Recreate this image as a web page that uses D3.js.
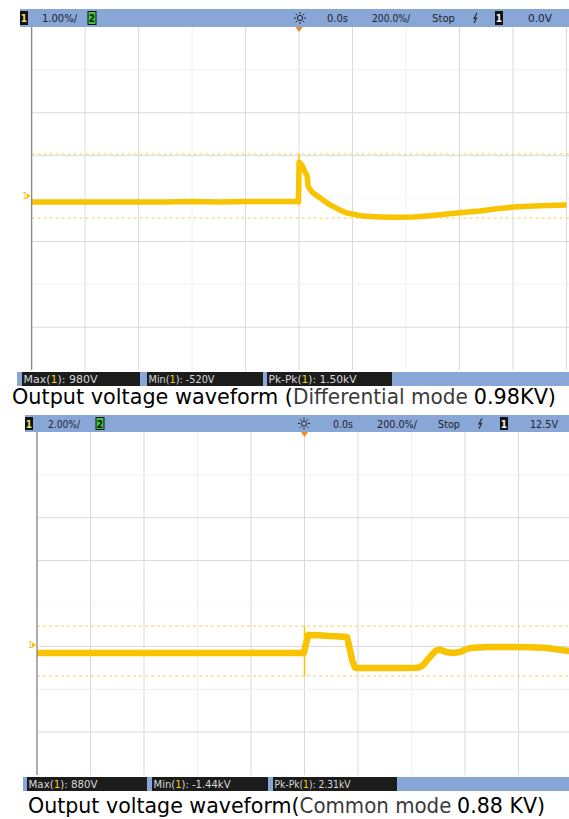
<!DOCTYPE html>
<html><head><meta charset="utf-8">
<script src="https://cdn.jsdelivr.net/npm/d3@7"></script>
<style>html,body{margin:0;padding:0;background:#fff;}svg{display:block;}</style>
</head><body>
<svg id="c" width="569" height="819"></svg>
<script>
// ---------- DATA ----------
// time grid (µs, 200 µs/div)
const timeGrid = [-1000,-800,-600,-400,-200,0,200,400,600,800,1000];
const divGrid = [0,1,2,3,4,5,6,7,8];

// Panel 1: differential mode (kV), 1 kV/div
const diffT = [-1000,-900,-800,-700,-600,-500,-400,-300,-200,-100,-2,0,4,12,22,30,34,50,79,116,150,179,239,303,360,426,490,553,620,677,740,800,900,1000];
const diffV = [-0.14,-0.14,-0.14,-0.14,-0.14,-0.14,-0.13,-0.14,-0.13,-0.13,-0.13,0.78,0.77,0.70,0.56,0.47,0.22,0.08,-0.05,-0.21,-0.32,-0.40,-0.47,-0.49,-0.50,-0.49,-0.46,-0.42,-0.38,-0.35,-0.30,-0.26,-0.23,-0.21];
const diffSpike = [0.98,-0.22];
const diffCursors = [0.98,-0.52];
const diffHeader = ["1.00%/","0.0s","200.0%/","Stop","0.0V"];
const diffStats = [["Max","980V"],["Min","-520V"],["Pk-Pk","1.50kV"]];

// Panel 2: common mode (kV), 2 kV/div
const commT = [-1000,-900,-800,-700,-600,-500,-400,-300,-200,-100,-2,13,50,95,130,159,166,178,189,230,282,357,420,432,445,458,477,488,495,505,518,535,555,581,600,619,682,779,850,906,990];
const commV = [-0.37,-0.37,-0.37,-0.37,-0.37,-0.37,-0.37,-0.37,-0.37,-0.37,-0.37,0.47,0.46,0.42,0.40,0.37,0.0,-0.70,-1.07,-1.07,-1.07,-1.07,-1.06,-1.03,-0.92,-0.72,-0.45,-0.30,-0.24,-0.22,-0.27,-0.34,-0.37,-0.33,-0.22,-0.14,-0.09,-0.09,-0.11,-0.14,-0.28];
const commSpike = [0.88,-1.44];
const commCursors = [0.88,-1.44];
const commHeader = ["2.00%/","0.0s","200.0%/","Stop","12.5V"];
const commStats = [["Max","880V"],["Min","-1.44kV"],["Pk-Pk","2.31kV"]];

const captions = [
  [["Output voltage waveform (","#000"],["Differential mode ","#3a3a3a"],["0.98KV)","#000"]],
  [["Output voltage waveform(","#000"],["Common mode ","#3a3a3a"],["0.88 KV)","#000"]]
];

// ---------- DRAW ----------
const svg = d3.select("#c");
const TRACE = "#f8c300";
const HDR = "#88a6d6";

function panel(cfg){
  const g = svg.append("g");
  const x = d3.scaleLinear().domain([-1000,1000]).range([cfg.x0, cfg.x1]);
  const y = d3.scaleLinear().domain(cfg.vDomain).range([cfg.yBot, cfg.yTop]);
  const yd = d3.scaleLinear().domain([0,8]).range([cfg.yTop, cfg.yBot]);
  const clipId = "clip"+cfg.id;
  svg.append("clipPath").attr("id", clipId).append("rect")
    .attr("x", cfg.x0).attr("y", cfg.yTop).attr("width", 569-cfg.x0).attr("height", cfg.yBot-cfg.yTop);
  const pg = g.append("g").attr("clip-path", `url(#${clipId})`);

  // grid verticals
  const faintV = [3,7];
  pg.selectAll("line.v").data(timeGrid.slice(1)).join("line")
    .attr("x1", d=>x(d)).attr("x2", d=>x(d)).attr("y1", cfg.yTop).attr("y2", cfg.yBot)
    .attr("stroke", (d,i)=> faintV.includes(i+1) ? "#f0f0f0" : "#d9d9d9").attr("stroke-width",1);
  // grid horizontals
  const faintH = [1,6];
  pg.selectAll("line.h").data(divGrid.slice(1,8)).join("line")
    .attr("x1", cfg.x0).attr("x2", 569).attr("y1", d=>yd(d)).attr("y2", d=>yd(d))
    .attr("stroke", d=> d===4 ? "#ececec" : (faintH.includes(d) ? "#f0f0f0" : "#d9d9d9"))
    .attr("stroke-dasharray", d=> d===4 ? "2,6" : null).attr("stroke-width",1);

  // cursors
  pg.selectAll("line.cur").data(cfg.cursors).join("line")
    .attr("x1", cfg.x0).attr("x2", 569).attr("y1", d=>y(d)).attr("y2", d=>y(d))
    .attr("stroke", "#f3dc7a").attr("stroke-width",1.2).attr("stroke-dasharray","3,3");

  // left axis
  g.append("line").attr("x1", cfg.x0).attr("x2", cfg.x0).attr("y1", cfg.yTop).attr("y2", cfg.yBot)
    .attr("stroke","#8a8a8a").attr("stroke-width",1.4);

  // trace
  const line = d3.line().x(d=>x(d[0])).y(d=>y(d[1]));
  pg.append("path").datum(cfg.t.map((t,i)=>[t,cfg.v[i]]))
    .attr("d", line).attr("fill","none").attr("stroke",TRACE)
    .attr("stroke-width", cfg.sw).attr("stroke-linejoin","round");
  pg.append("line").attr("x1", x(0)).attr("x2", x(0))
    .attr("y1", y(cfg.spike[0])).attr("y2", y(cfg.spike[1]))
    .attr("stroke",TRACE).attr("stroke-width",1.5);

  // ground marker
  const gy = y(0);
  g.append("text").attr("x", cfg.x0-9).attr("y", gy+3).text("1")
    .attr("font-family","DejaVu Sans").attr("font-size",8).attr("fill","#e3c020");
  g.append("path").attr("d", `M${cfg.x0-5},${gy-3}L${cfg.x0-1},${gy}L${cfg.x0-5},${gy+3}Z`).attr("fill","#f0c800");

  // header bar
  const hb = g.append("g");
  hb.append("rect").attr("x", cfg.hx).attr("y", cfg.hy).attr("width", 569-cfg.hx).attr("height", cfg.hh).attr("fill", HDR);
  const hcy = cfg.hy + cfg.hh/2;
  const font = "'DejaVu Sans Condensed','DejaVu Sans',sans-serif";
  hb.append("rect").attr("x", cfg.hx).attr("y", cfg.hy+2).attr("width",8).attr("height",cfg.hh-4).attr("fill","#111");
  hb.append("text").attr("x", cfg.hx+4).attr("y", hcy+4).attr("text-anchor","middle").text("1")
    .attr("font-family",font).attr("font-weight","bold").attr("font-size",10).attr("fill","#e8e070");
  hb.append("rect").attr("x", cfg.c2x).attr("y", cfg.hy+2.5).attr("width",8).attr("height",cfg.hh-5).attr("fill","#3ec83e").attr("stroke","#111").attr("stroke-width",1);
  hb.append("text").attr("x", cfg.c2x+4).attr("y", hcy+4).attr("text-anchor","middle").text("2")
    .attr("font-family",font).attr("font-weight","bold").attr("font-size",10).attr("fill","#111");
  cfg.hText.forEach((s,i)=>{
    hb.append("text").attr("x", cfg.hPos[i][0]).attr("y", hcy+4).text(s)
      .attr("textLength", cfg.hPos[i][1]).attr("lengthAdjust","spacingAndGlyphs")
      .attr("font-family",font).attr("font-size",11).attr("fill","#1e2430");
  });
  const sx = cfg.sunX, sy = hcy;
  hb.append("circle").attr("cx",sx).attr("cy",sy).attr("r",2.6).attr("fill","none").attr("stroke","#222").attr("stroke-width",1);
  d3.range(8).forEach(k=>{
    const a = k*Math.PI/4;
    hb.append("line").attr("x1", sx+Math.cos(a)*4).attr("y1", sy+Math.sin(a)*4)
      .attr("x2", sx+Math.cos(a)*6).attr("y2", sy+Math.sin(a)*6).attr("stroke","#222").attr("stroke-width",1);
  });
  const lx = cfg.boltX;
  hb.append("path").attr("d", `M${lx+2},${hcy-5}L${lx-1},${hcy+0.5}L${lx+1.5},${hcy}L${lx-1},${hcy+5}`)
    .attr("fill","none").attr("stroke","#222").attr("stroke-width",1.1);
  hb.append("rect").attr("x", cfg.r1x).attr("y", cfg.hy+2).attr("width",8).attr("height",cfg.hh-4).attr("fill","#111");
  hb.append("text").attr("x", cfg.r1x+4).attr("y", hcy+4).attr("text-anchor","middle").text("1")
    .attr("font-family",font).attr("font-weight","bold").attr("font-size",10).attr("fill","#f2f2f2");
  g.append("path").attr("d", `M${x(0)-3.5},${cfg.yTop}L${x(0)+3.5},${cfg.yTop}L${x(0)},${cfg.yTop+5}Z`).attr("fill","#f08a1e");

  // status bar
  const sb = g.append("g");
  sb.append("rect").attr("x", cfg.sx).attr("y", cfg.sy).attr("width", 569-cfg.sx).attr("height", 14).attr("fill", HDR);
  cfg.stats.forEach((s,i)=>{
    const b = cfg.boxes[i];
    sb.append("rect").attr("x", b[0]).attr("y", cfg.sy).attr("width", b[1]-b[0]).attr("height", 14).attr("fill","#1c1c1c");
    const t = sb.append("text").attr("x", b[0]+1.5).attr("y", cfg.sy+11)
      .attr("font-family",font).attr("font-size",10.5).attr("fill","#d8d8d8")
      .attr("textLength", b[2]).attr("lengthAdjust","spacingAndGlyphs");
    t.append("tspan").text(s[0]+"(");
    t.append("tspan").text("1").attr("fill","#f0d000");
    t.append("tspan").text("): "+s[1]);
  });

  // caption: separate pieces, scaled to measured total width
  const capFont = "'DejaVu Sans',sans-serif", capSize = 21.5;
  const pieces = cfg.caption.map(p=>{
    const t = svg.append("text").attr("y", cfg.capY).attr("font-family",capFont)
      .attr("font-size",capSize).attr("fill",p[1]).text(p[0]);
    return {t, w: t.node().getComputedTextLength(), trail: /\s$/.test(p[0])};
  });
  const total = d3.sum(pieces, p=>p.w);
  const k = cfg.capW/total;
  let cx = cfg.capX;
  pieces.forEach(p=>{
    const w = p.w*k;
    const tl = p.trail ? w - 6*k : w;   // keep trailing space out of the drawn box
    p.t.text(p.t.text().replace(/\s+$/,""))
      .attr("x", cx).attr("textLength", tl).attr("lengthAdjust","spacingAndGlyphs");
    cx += w;
  });
}

panel({id:1, x0:31.6, x1:566.5, yTop:27, yBot:370, vDomain:[-4.06,3.94],
  t:diffT, v:diffV, spike:diffSpike, cursors:diffCursors, sw:5.5,
  hx:20, hy:9, hh:18, c2x:88, hText:diffHeader,
  hPos:[[42,35],[327,21],[372,38],[432,23],[528,24]], sunX:300, boltX:475, r1x:495,
  sx:17, sy:372, stats:diffStats, boxes:[[22,140,74],[147,263,66],[267,392,88]],
  caption:captions[0], capX:12, capY:404, capW:544});

panel({id:2, x0:37, x1:572, yTop:432, yBot:775, vDomain:[-6.06,9.93],
  t:commT, v:commV, spike:commSpike, cursors:commCursors, sw:6.5,
  hx:25, hy:415, hh:17, c2x:96, hText:commHeader,
  hPos:[[48,32],[333,20],[377,40],[438,22],[530,28]], sunX:304, boltX:480, r1x:500,
  sx:23, sy:777, stats:commStats, boxes:[[27,147,69],[152,268,77],[273,397,76]],
  caption:captions[1], capX:28, capY:813, capW:517});
</script>
</body></html>
